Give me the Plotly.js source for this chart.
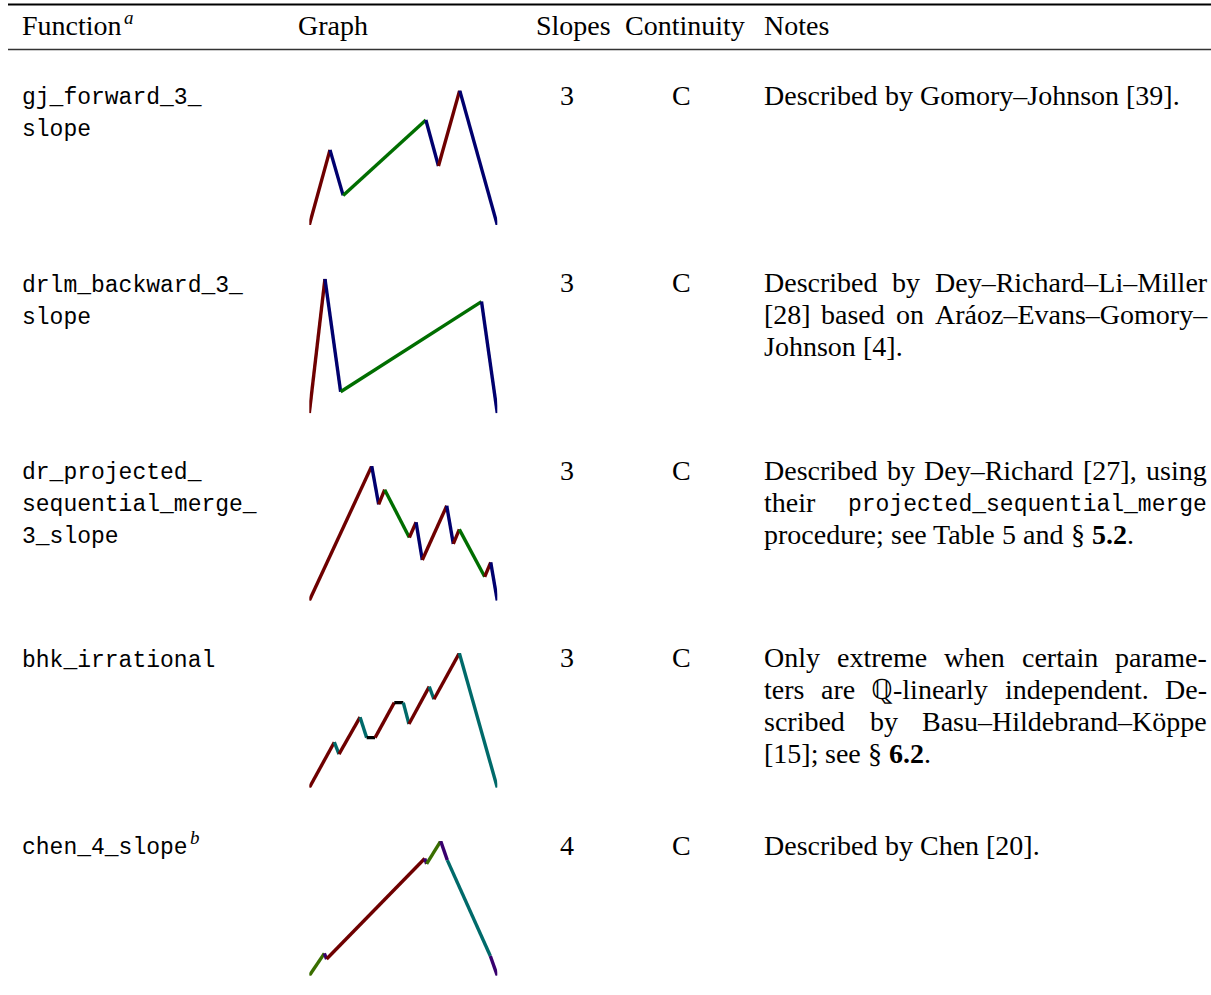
<!DOCTYPE html>
<html><head><meta charset="utf-8">
<script src="https://cdn.plot.ly/plotly-3.0.1.min.js"></script>
<style>html,body{margin:0;padding:0;background:#fff}#chart{width:1211px;height:995px}</style>
</head><body><div id="chart"></div>
<script>
// ---------- data ----------
const headers = ["Function", "Graph", "Slopes", "Continuity", "Notes"];
const headerSup = "a";
const functionNames = [
  ["gj_forward_3_", "slope"],
  ["drlm_backward_3_", "slope"],
  ["dr_projected_", "sequential_merge_", "3_slope"],
  ["bhk_irrational"],
  ["chen_4_slope"]
];
const functionSup = ["", "", "", "", "b"];
const slopes = ["3", "3", "3", "3", "4"];
const continuity = ["C", "C", "C", "C", "C"];
const notesLines = [
  ["Described by Gomory–Johnson [39]."],
  ["Described by Dey–Richard–Li–Miller", "[28] based on Aráoz–Evans–Gomory–", "Johnson [4]."],
  ["Described by Dey–Richard [27], using", "their <tt>projected_sequential_merge</tt>", "procedure; see Table 5 and § <b>5.2</b>."],
  ["Only extreme when certain parame-", "ters are ℚ-linearly independent. De-", "scribed by Basu–Hildebrand–Köppe", "[15]; see § <b>6.2</b>."],
  ["Described by Chen [20]."]
];

// graph breakpoints (x in [0,1], y in [0,1]) and slope-colour index of each piece
const g1x = [0, 0.11, 0.18, 0.62, 0.687, 0.8, 1];
const g1y = [0, 0.558, 0.22, 0.78, 0.438, 1, 0];
const g1c = ["M", "N", "G", "N", "M", "N"];

const g2x = [0, 0.0833, 0.1667, 0.916, 1];
const g2y = [0, 1, 0.16, 0.83, 0];
const g2c = ["M", "N", "G", "N"];

const g3x = [0, 0.332, 0.369, 0.401, 0.532, 0.568, 0.601, 0.731, 0.766, 0.798, 0.933, 0.965, 1];
const g3y = [0, 1, 0.716, 0.825, 0.47, 0.583, 0.302, 0.705, 0.422, 0.53, 0.178, 0.285, 0];
const g3c = ["M", "N", "M", "G", "M", "N", "M", "N", "M", "G", "M", "N"];

const g4x = [0, 0.133, 0.158, 0.27, 0.305, 0.35, 0.452, 0.5, 0.53, 0.638, 0.663, 0.798, 1];
const g4y = [0, 0.338, 0.249, 0.524, 0.372, 0.372, 0.632, 0.632, 0.473, 0.751, 0.657, 1, 0];
const g4c = ["M", "T", "M", "T", "K", "M", "K", "T", "M", "T", "M", "T"];

const g5x = [0, 0.080, 0.092, 0.614, 0.624, 0.699, 0.734, 0.963, 1];
const g5y = [0, 0.166, 0.124, 0.871, 0.831, 1, 0.859, 0.146, 0];
const g5c = ["O", "P", "M", "P", "O", "P", "T", "P"];

const palette = {M: "#6e0000", N: "#00006e", G: "#006e00", T: "#006a6a", K: "#000000", O: "#3a6e00", P: "#38006e"};

// ---------- layout helpers ----------
const W = 1211, H = 995;
const SERIF = "Liberation Serif", MONO = "Liberation Mono";
const SS = 28, MS = 23;
const fontMetrics = {serif: 0.3375, mono: 0.2665};
const cv = document.createElement("canvas").getContext("2d");
function measure(txt, kind) {
  if (kind === "m") cv.font = MS + 'px "' + MONO + '"';
  else if (kind === "b") cv.font = 'bold ' + SS + 'px "' + SERIF + '"';
  else cv.font = SS + 'px "' + SERIF + '"';
  return cv.measureText(txt).width;
}
const annotations = [];
function put(text, x, baseline, kind, opts) {
  opts = opts || {};
  const size = opts.size || (kind === "m" ? MS : SS);
  const fam = kind === "m" ? MONO : SERIF;
  const off = (kind === "m" ? fontMetrics.mono : fontMetrics.serif) * size;
  annotations.push({
    xref: "paper", yref: "paper", x: x / W, y: 1 - (baseline - off) / H,
    xanchor: opts.xanchor || "left", yanchor: "middle",
    text: kind === "b" ? "<b>" + text + "</b>" : (opts.italic ? "<i>" + text + "</i>" : text),
    showarrow: false, borderpad: 0, borderwidth: 0,
    font: {family: fam, size: size, color: "#000"}
  });
}
function pieces(word) {
  const out = []; const re = /<(b|tt)>(.*?)<\/\1>|[^<]+/g; let m;
  while ((m = re.exec(word)) !== null) {
    if (m[1]) out.push([m[2], m[1] === "b" ? "b" : "m"]); else out.push([m[0], "r"]);
  }
  return out;
}
function wordWidth(w) { return pieces(w).reduce((s, p) => s + measure(p[0], p[1]), 0); }
function putWord(w, x, baseline) {
  pieces(w).forEach(p => { put(p[0], x, baseline, p[1]); x += measure(p[0], p[1]); });
}
function putLine(line, left, right, baseline, justify) {
  const words = line.split(" ");
  const widths = words.map(wordWidth);
  const total = widths.reduce((a, b) => a + b, 0);
  const gap = (justify && words.length > 1) ? (right - left - total) / (words.length - 1) : measure(" ", "r");
  let x = left;
  words.forEach((w, i) => { putWord(w, x, baseline); x += widths[i] + gap; });
}

// ---------- table text ----------
const headBase = 35;
const colX = [22, 298, 536, 625, 764];
headers.forEach((h, i) => put(h, colX[i], headBase, "r"));
put(headerSup, colX[0] + measure(headers[0], "r") + 2, headBase - 11, "r", {size: 19, italic: true});

const rowBase = [104.5, 292, 479.5, 667, 854.5];
const lineGap = 32;
const notesLeft = 764, notesRight = 1207;
rowBase.forEach((b, r) => {
  functionNames[r].forEach((t, j) => put(t, 22, b + j * lineGap, "m"));
  if (functionSup[r]) {
    const last = functionNames[r][functionNames[r].length - 1];
    put(functionSup[r], 22 + measure(last, "m") + 2, b - 11, "r", {size: 19, italic: true});
  }
  put(slopes[r], 567, b, "r", {xanchor: "center"});
  put(continuity[r], 681, b, "r", {xanchor: "center"});
  const ls = notesLines[r];
  ls.forEach((l, j) => putLine(l, notesLeft, notesRight, b + j * lineGap, j < ls.length - 1));
});

// ---------- graphs ----------
const graphs = [[g1x, g1y, g1c], [g2x, g2y, g2c], [g3x, g3y, g3c], [g4x, g4y, g4c], [g5x, g5y, g5c]];
const gLeft = 309.3, gRight = 497.3;
const gBottom = [225, 413.3, 600.7, 787.7, 975.7];
const gHeight = 134.6;
const traces = [];
const layout = {
  width: W, height: H, margin: {l: 0, r: 0, t: 0, b: 0},
  paper_bgcolor: "#fff", plot_bgcolor: "rgba(0,0,0,0)", showlegend: false,
  annotations: annotations,
  shapes: [
    {type: "line", xref: "paper", yref: "paper", x0: 8 / W, x1: 1, y0: 1 - 4.5 / H, y1: 1 - 4.5 / H, line: {color: "#000", width: 2}},
    {type: "line", xref: "paper", yref: "paper", x0: 8 / W, x1: 1, y0: 1 - 49.5 / H, y1: 1 - 49.5 / H, line: {color: "#333", width: 1.3}}
  ]
};
graphs.forEach((g, k) => {
  const sfx = k === 0 ? "" : String(k + 1);
  const ax = {range: [0, 1], visible: false, showgrid: false, zeroline: false, fixedrange: true};
  layout["xaxis" + sfx] = Object.assign({}, ax, {domain: [gLeft / W, gRight / W], anchor: "y" + sfx});
  layout["yaxis" + sfx] = Object.assign({}, ax, {domain: [1 - gBottom[k] / H, 1 - (gBottom[k] - gHeight) / H], anchor: "x" + sfx});
  const [xs, ys, cs] = g;
  for (let i = 0; i < cs.length; i++) {
    traces.push({
      type: "scatter", mode: "lines", x: [xs[i], xs[i + 1]], y: [ys[i], ys[i + 1]],
      xaxis: "x" + sfx, yaxis: "y" + sfx, cliponaxis: false, hoverinfo: "skip",
      line: {color: palette[cs[i]], width: 3.4}
    });
  }
});
Plotly.newPlot("chart", traces, layout, {staticPlot: true, displayModeBar: false});
</script>
</body></html>
